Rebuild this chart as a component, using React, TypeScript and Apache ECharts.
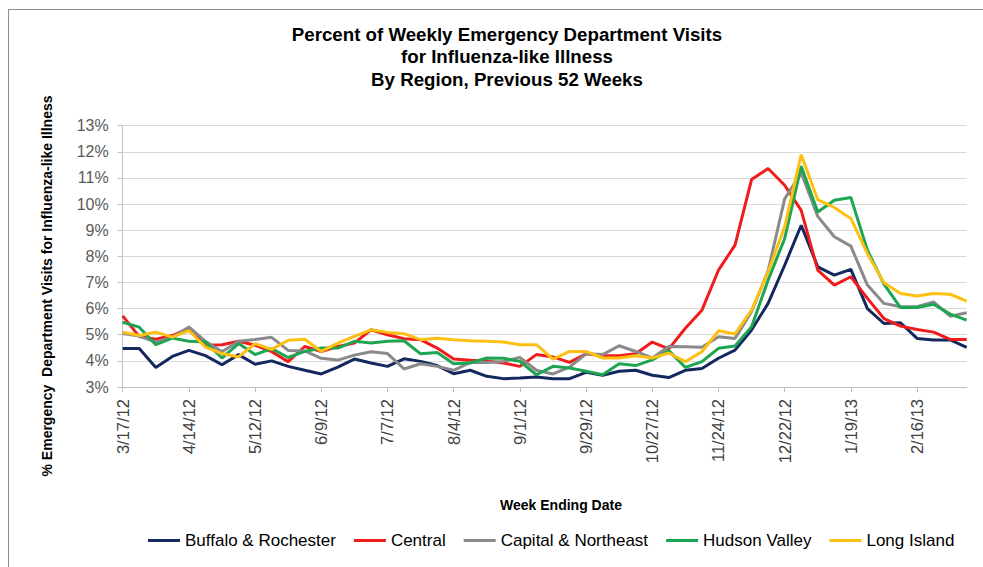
import React, { useEffect, useRef } from "react";
import * as echarts from "echarts";

const weeks = [
  "3/17/12", "3/24/12", "3/31/12", "4/7/12", "4/14/12", "4/21/12", "4/28/12", "5/5/12",
  "5/12/12", "5/19/12", "5/26/12", "6/2/12", "6/9/12", "6/16/12", "6/23/12", "6/30/12",
  "7/7/12", "7/14/12", "7/21/12", "7/28/12", "8/4/12", "8/11/12", "8/18/12", "8/25/12",
  "9/1/12", "9/8/12", "9/15/12", "9/22/12", "9/29/12", "10/6/12", "10/13/12", "10/20/12",
  "10/27/12", "11/3/12", "11/10/12", "11/17/12", "11/24/12", "12/1/12", "12/8/12", "12/15/12",
  "12/22/12", "12/29/12", "1/5/13", "1/12/13", "1/19/13", "1/26/13", "2/2/13", "2/9/13",
  "2/16/13", "2/23/13", "3/2/13", "3/9/13",
];

const buffaloRochester = [
  4.47, 4.47, 3.75, 4.17, 4.4, 4.2, 3.85, 4.24, 3.87, 4.0, 3.79, 3.64, 3.5, 3.76, 4.07, 3.92,
  3.79, 4.08, 3.98, 3.82, 3.51, 3.64, 3.41, 3.32, 3.34, 3.38, 3.32, 3.32, 3.56, 3.45, 3.6, 3.64,
  3.45, 3.36, 3.64, 3.71, 4.1, 4.41, 5.18, 6.2, 7.66, 9.19, 7.6, 7.28, 7.5, 6.0, 5.43, 5.46,
  4.86, 4.8, 4.8, 4.52,
];

const central = [
  5.72, 4.93, 4.83, 4.97, 5.24, 4.6, 4.62, 4.75, 4.6, 4.35, 3.97, 4.55, 4.36, 4.55, 4.68, 5.19,
  5.0, 4.85, 4.81, 4.49, 4.07, 4.02, 4.0, 3.92, 3.79, 4.24, 4.15, 3.94, 4.27, 4.2, 4.2, 4.27,
  4.72, 4.46, 5.25, 5.94, 7.47, 8.43, 10.94, 11.36, 10.72, 9.76, 7.47, 6.9, 7.22, 6.39, 5.62, 5.33,
  5.2, 5.1, 4.82, 4.82,
];

const capitalNortheast = [
  5.05, 4.95, 4.72, 4.9, 5.3, 4.75, 4.35, 4.75, 4.82, 4.9, 4.4, 4.38, 4.1, 4.03, 4.22, 4.35,
  4.28, 3.69, 3.89, 3.79, 3.64, 3.94, 3.94, 3.98, 4.13, 3.64, 3.5, 3.76, 4.27, 4.24, 4.58, 4.36,
  4.11, 4.55, 4.54, 4.52, 4.92, 4.86, 5.88, 7.45, 10.2, 11.2, 9.53, 8.75, 8.39, 6.9, 6.2, 6.07,
  6.07, 6.26, 5.71, 5.84,
];

const hudsonValley = [
  5.48, 5.29, 4.62, 4.87, 4.75, 4.72, 4.11, 4.66, 4.24, 4.47, 4.13, 4.36, 4.49, 4.49, 4.75, 4.68,
  4.75, 4.77, 4.27, 4.32, 3.89, 3.92, 4.11, 4.1, 3.98, 3.47, 3.79, 3.73, 3.6, 3.47, 3.89, 3.82,
  4.04, 4.39, 3.75, 3.97, 4.48, 4.57, 5.31, 7.09, 8.68, 11.45, 9.7, 10.15, 10.25, 8.24, 6.94, 6.04,
  6.04, 6.17, 5.79, 5.56,
];

const longIsland = [
  5.1, 4.97, 5.1, 4.91, 5.16, 4.53, 4.28, 4.15, 4.66, 4.44, 4.79, 4.83, 4.36, 4.68, 4.94, 5.19,
  5.09, 5.04, 4.81, 4.87, 4.81, 4.77, 4.75, 4.72, 4.62, 4.62, 4.07, 4.36, 4.36, 4.11, 4.11, 4.2,
  4.11, 4.3, 3.97, 4.35, 5.15, 5.03, 5.94, 7.41, 9.13, 11.89, 10.17, 9.87, 9.45, 8.1, 6.99, 6.58,
  6.48, 6.58, 6.55, 6.29,
];

const seriesNames = ["Buffalo & Rochester", "Central", "Capital & Northeast", "Hudson Valley", "Long Island"];
const seriesColors = ["#13295e", "#f01c1c", "#8a8a8a", "#1ea552", "#fdc012"];
const seriesData = [buffaloRochester, central, capitalNortheast, hudsonValley, longIsland];

const titleText = "Percent of Weekly Emergency Department Visits\nfor Influenza-like Illness\nBy Region, Previous 52 Weeks";
const yAxisTitle = "% Emergency  Department Visits for Influenza-like Illness";
const xAxisTitle = "Week Ending Date";

const FONT = "Arial, 'Liberation Sans', sans-serif";

export default function App() {
  const ref = useRef<HTMLDivElement>(null);

  useEffect(() => {
    if (!ref.current) return;
    const chart = echarts.init(ref.current, undefined, { renderer: "svg" });
    chart.setOption({
      animation: false,
      backgroundColor: "#ffffff",
      textStyle: { fontFamily: FONT },
      title: {
        text: titleText,
        left: 502,
        top: 18,
        textAlign: "center",
        textStyle: { fontSize: 18.7, fontWeight: "bold", color: "#000", lineHeight: 22.5, fontFamily: FONT },
      },
      legend: {
        left: 143,
        top: 527,
        icon: "rect",
        itemWidth: 32,
        itemHeight: 3,
        itemGap: 18,
        data: seriesNames,
        textStyle: { fontSize: 17, color: "#000", fontFamily: FONT },
      },
      grid: { left: 122.7, right: 16.3, top: 125.7, bottom: 180, containLabel: false },
      xAxis: {
        type: "category",
        data: weeks,
        boundaryGap: false,
        axisLine: { show: true, lineStyle: { color: "#bfbfbf", width: 1 } },
        axisTick: { show: true, interval: 3, length: 5, lineStyle: { color: "#bfbfbf" } },
        axisLabel: {
          interval: 3,
          rotate: 90,
          margin: 12,
          fontSize: 16.5,
          color: "#404040",
          fontFamily: FONT,
        },
        splitLine: { show: false },
      },
      yAxis: {
        type: "value",
        min: 3,
        max: 13,
        interval: 1,
        axisLine: { show: true, lineStyle: { color: "#bfbfbf", width: 1 } },
        axisTick: { show: true, length: 5, lineStyle: { color: "#bfbfbf" } },
        axisLabel: {
          formatter: (v: number) => `${v}%`,
          margin: 14,
          fontSize: 16,
          color: "#595959",
          fontFamily: FONT,
        },
        splitLine: { show: true, lineStyle: { color: "#d9d9d9", width: 1 } },
      },
      graphic: [
        {
          type: "rect",
          shape: { x: 8.5, y: 9.5, width: 1200, height: 800 },
          style: { fill: "none", stroke: "#8c8c8c", lineWidth: 1 },
          silent: true,
        },
        {
          type: "text",
          x: 47,
          y: 286,
          rotation: Math.PI / 2,
          style: {
            text: yAxisTitle,
            fontSize: 14,
            fontWeight: "bold",
            fontFamily: FONT,
            fill: "#000",
            align: "center",
            verticalAlign: "middle",
          },
        },
        {
          type: "text",
          x: 561,
          y: 505,
          style: {
            text: xAxisTitle,
            fontSize: 14,
            fontWeight: "bold",
            fontFamily: FONT,
            fill: "#000",
            align: "center",
            verticalAlign: "middle",
          },
        },
      ],
      series: seriesNames.map((name, i) => ({
        name,
        type: "line",
        data: seriesData[i],
        color: seriesColors[i],
        showSymbol: false,
        symbol: "none",
        lineStyle: { width: 3, color: seriesColors[i] },
        z: 2 + i,
      })),
    });
    return () => chart.dispose();
  }, []);

  return (
    <div
      ref={ref}
      style={{ position: "fixed", left: 0, top: 0, width: 983, height: 567 }}
    />
  );
}
